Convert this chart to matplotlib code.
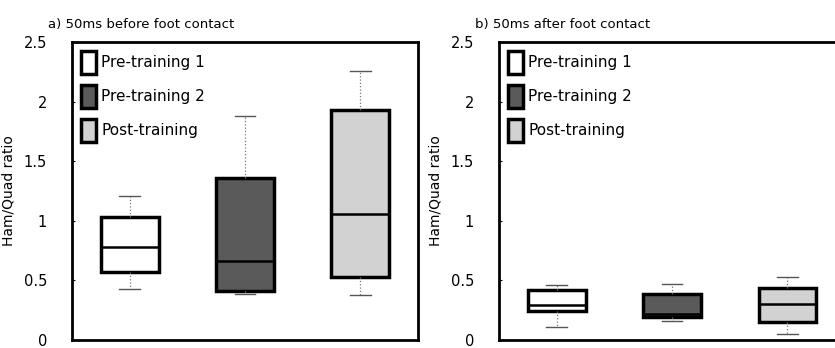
import matplotlib.pyplot as plt
from matplotlib.patches import Patch

# Ham/Quad ratio box statistics
groups = ["Pre-training 1", "Pre-training 2", "Post-training"]
colors = ["white", "#5a5a5a", "#d2d2d2"]

# a) 50ms before foot contact
before_low = [0.43, 0.39, 0.38]
before_q1 = [0.57, 0.41, 0.53]
before_med = [0.78, 0.66, 1.06]
before_q3 = [1.03, 1.36, 1.93]
before_high = [1.21, 1.88, 2.26]

# b) 50ms after foot contact
after_low = [0.11, 0.16, 0.05]
after_q1 = [0.24, 0.19, 0.15]
after_med = [0.29, 0.22, 0.30]
after_q3 = [0.42, 0.39, 0.44]
after_high = [0.46, 0.47, 0.53]

yticks = [0, 0.5, 1, 1.5, 2, 2.5]
ytick_labels = ["0", "0.5", "1", "1.5", "2", "2.5"]

plt.rcParams['font.family'] = ['DejaVu Sans']

fig = plt.figure(figsize=(8.35, 3.48), dpi=100)
W, H = 835, 348
ax1 = fig.add_axes([72 / W, 1 - 340 / H, 346 / W, 298 / H])
ax2 = fig.add_axes([499 / W, 1 - 340 / H, 346 / W, 298 / H])


def draw(ax, low, q1, med, q3, high, title):
    stats = []
    for i in range(len(groups)):
        stats.append(dict(whislo=low[i], q1=q1[i], med=med[i], q3=q3[i],
                          whishi=high[i], fliers=[], label=groups[i]))
    bp = ax.bxp(stats, positions=[1, 2, 3], widths=0.5, patch_artist=True,
                showfliers=False,
                boxprops=dict(linewidth=2.5, edgecolor="black"),
                medianprops=dict(color="black", linewidth=1.8),
                whiskerprops=dict(color="#777777", linewidth=0.9, linestyle=":"),
                capprops=dict(color="#555555", linewidth=1.0),
                capwidths=0.18)
    for patch, c in zip(bp["boxes"], colors):
        patch.set_facecolor(c)
    ax.set_xlim(0.5, 3.5)
    ax.set_ylim(0, 2.5)
    ax.set_yticks(yticks)
    ax.set_yticklabels(ytick_labels, fontsize=10.5)
    ax.set_xticks([])
    ax.tick_params(axis="y", direction="in", length=2, pad=18)
    for s in ax.spines.values():
        s.set_linewidth(2)
    ax.set_ylabel("Ham/Quad ratio", fontsize=10, labelpad=6)
    ax.set_title(title, loc="left", fontsize=9.5, x=-0.07, pad=10)
    handles = [Patch(facecolor=c, edgecolor="black", linewidth=2.5) for c in colors]
    ax.legend(handles, groups, loc="upper left", frameon=False, fontsize=11,
              handlelength=1.0, handleheight=1.9, handletextpad=0.3,
              labelspacing=0.75, borderaxespad=0.2)


draw(ax1, before_low, before_q1, before_med, before_q3, before_high,
     "a) 50ms before foot contact")
draw(ax2, after_low, after_q1, after_med, after_q3, after_high,
     "b) 50ms after foot contact")

fig.savefig("out.png", dpi=100)
